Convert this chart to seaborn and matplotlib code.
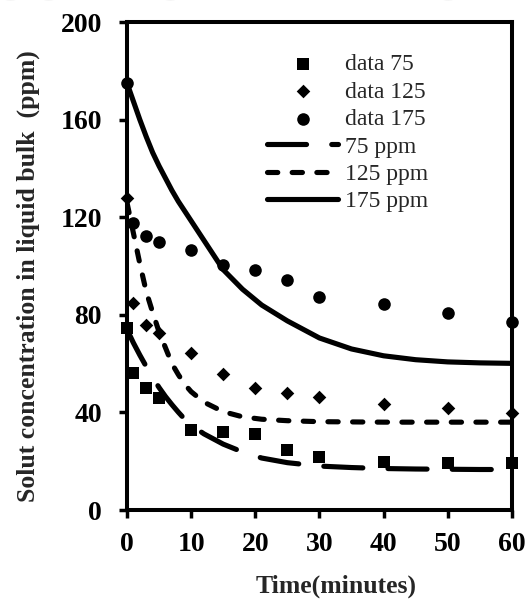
import numpy as np
import matplotlib
matplotlib.use("Agg")
import matplotlib.pyplot as plt
import seaborn as sns

# measured points (minutes, ppm)
time = [0, 1, 3, 5, 10, 15, 20, 25, 30, 40, 50, 60]
data75 = [74.5, 56.3, 50.1, 46.0, 32.8, 32.1, 31.1, 24.6, 21.8, 19.8, 19.4, 19.1]
data125 = [127.7, 85.0, 75.8, 72.4, 64.2, 55.6, 49.9, 47.8, 46.4, 43.3, 41.7, 39.9]
data175 = [175.0, 117.6, 112.3, 109.7, 106.6, 100.4, 98.4, 94.3, 87.4, 84.3, 80.6, 77.2]

# model curves
model_t = [0, 1, 2, 3, 4, 5, 6, 7, 8, 9, 10, 12, 15, 18, 21, 25, 30, 35, 40, 45, 50, 55, 60]
model75 = [74, 68.5, 63.5, 58.8, 54.3, 50.2, 46.5, 43.2, 40.1, 37.2, 34.8, 31.2, 27, 23.8,
           21.3, 19.4, 18.0, 17.4, 17.0, 16.8, 16.7, 16.6, 16.6]
model125 = [126, 113.5, 101, 89.5, 81, 73, 66.5, 60, 55.5, 51.5, 48.5, 44.2, 40.3, 38.2,
            37.2, 36.6, 36.2, 36.1, 36, 36, 36, 36, 36]
model175 = [175, 167.5, 160, 153, 146.5, 141, 136, 131, 126.5, 122.5, 118.5, 110.5, 98.5, 90.5,
            84, 77.5, 70.5, 66, 63.2, 61.6, 60.7, 60.3, 60.1]

sns.set_style("ticks")
plt.rcParams["font.family"] = ["Liberation Serif", "DejaVu Serif"]

fig = plt.figure(figsize=(5.28, 6.0), dpi=100)
ax = fig.add_axes([0.2405, 0.15, 0.729, 0.8133])

# faint page watermark behind the chart, mostly cut off by the top edge
fig.text(-0.01, 0.999, "SCIENCE AND TECH", family="DejaVu Sans", fontsize=37,
         color="#ececec", va="baseline", ha="left", zorder=0)

mk = dict(color="k", linewidth=0, clip_on=False, zorder=5, ax=ax)
sns.scatterplot(x=time, y=data75, marker="s", s=72, label="data 75", **mk)
sns.scatterplot(x=time, y=data125, marker="D", s=48, label="data 125", **mk)
sns.scatterplot(x=time, y=data175, marker="o", s=82, label="data 175", **mk)

ln = dict(color="k", lw=3.7, dash_capstyle="round", ax=ax)
sns.lineplot(x=model_t, y=model75, linestyle=(0, (7.6, 4.9)), label="75 ppm", **ln)
sns.lineplot(x=model_t, y=model125, linestyle=(0, (2.0, 2.8)), label="125 ppm", **ln)
sns.lineplot(x=model_t, y=model175, linestyle="-", label="175 ppm", **ln)

ax.set_xlim(0, 60)
ax.set_ylim(0, 200)
ax.set_xticks(np.arange(0, 61, 10))
ax.set_yticks(np.arange(0, 201, 40))
for s in ax.spines.values():
    s.set_linewidth(2.9)
    s.set_color("k")
ax.tick_params(axis="both", direction="out", length=6, width=2.5, labelsize=20, colors="k")
ax.tick_params(axis="x", pad=10)
ax.tick_params(axis="y", pad=12)
for t in ax.get_xticklabels() + ax.get_yticklabels():
    t.set_fontweight("bold")

ax.set_xlabel("Time(minutes)", fontsize=18.5, fontweight="bold")
ax.set_ylabel("Solut concentration in liquid bulk  (ppm)", fontsize=18.5, fontweight="bold")
ax.xaxis.set_label_coords(0.544, -0.133)
ax.yaxis.set_label_coords(-0.226, 0.4785)

ax.legend(loc="upper left", bbox_to_anchor=(0.365, 0.935), frameon=False, fontsize=17,
          handlelength=3.0, handletextpad=0.3, labelspacing=0.25, borderpad=0,
          borderaxespad=0)

fig.savefig("out.png", dpi=100)
